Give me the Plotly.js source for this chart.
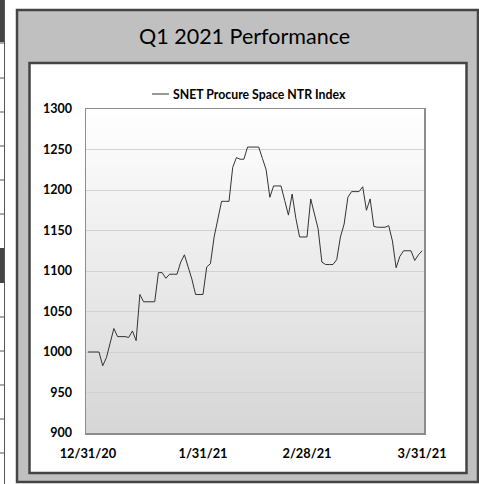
<!DOCTYPE html>
<html>
<head>
<meta charset="utf-8">
<script src="https://cdn.plot.ly/plotly-3.0.1.min.js"></script>
<style>html,body{margin:0;padding:0;background:#fff;}#chart{width:479px;height:484px;}</style>
</head>
<body>
<div id="chart"></div>
<script>
const seriesName = 'SNET Procure Space NTR Index';
const chartTitle = 'Q1 2021 Performance';
const dates = [
 '2020-12-31','2021-01-01','2021-01-02','2021-01-03','2021-01-04','2021-01-05','2021-01-06','2021-01-07','2021-01-08','2021-01-09','2021-01-10',
 '2021-01-11','2021-01-12','2021-01-13','2021-01-14','2021-01-15','2021-01-16','2021-01-17','2021-01-18','2021-01-19','2021-01-20',
 '2021-01-21','2021-01-22','2021-01-23','2021-01-24','2021-01-25','2021-01-26','2021-01-27','2021-01-28','2021-01-29','2021-01-30','2021-01-31',
 '2021-02-01','2021-02-02','2021-02-03','2021-02-04','2021-02-05','2021-02-06','2021-02-07','2021-02-08','2021-02-09','2021-02-10',
 '2021-02-11','2021-02-12','2021-02-13','2021-02-14','2021-02-15','2021-02-16','2021-02-17','2021-02-18','2021-02-19','2021-02-20',
 '2021-02-21','2021-02-22','2021-02-23','2021-02-24','2021-02-25','2021-02-26','2021-02-27','2021-02-28',
 '2021-03-01','2021-03-02','2021-03-03','2021-03-04','2021-03-05','2021-03-06','2021-03-07','2021-03-08','2021-03-09','2021-03-10',
 '2021-03-11','2021-03-12','2021-03-13','2021-03-14','2021-03-15','2021-03-16','2021-03-17','2021-03-18','2021-03-19','2021-03-20',
 '2021-03-21','2021-03-22','2021-03-23','2021-03-24','2021-03-25','2021-03-26','2021-03-27','2021-03-28','2021-03-29','2021-03-30','2021-03-31'
];
const values = [
 1000,1000,1000,1000,983,993,1011,1029,1019,1019,1019,
 1018,1026,1014,1071,1062,1062,1062,1062,1098,1098,
 1091,1096,1096,1096,1111,1120,1105,1090,1071,1071,1071,
 1105,1109,1142,1163,1186,1186,1186,1228,1240,1238,
 1238,1253,1253,1253,1253,1239,1225,1191,1205,1205,
 1205,1187,1169,1195,1165,1142,1142,1142,
 1189,1171,1152,1111,1108,1108,1108,1114,1142,1158,
 1191,1198,1198,1198,1204,1175,1189,1155,1154,1154,
 1154,1156,1137,1104,1118,1125,1125,1125,1113,1120,1125
];
const xTickVals = ['2020-12-31','2021-01-31','2021-02-28','2021-03-31'];
const xTickText = ['12/31/20','1/31/21','2/28/21','3/31/21'];
const yTickVals = [900,950,1000,1050,1100,1150,1200,1250,1300];

// layout geometry (pixels)
const W = 479, H = 484;
const PL = 86, PR = 424, PT = 109, PB = 433;
const px = v => (v - PL) / (PR - PL);
const py = v => (PB - v) / (PB - PT);

const shapes = [];
// left page strip (table fragment)
shapes.push({type:'rect', xref:'paper', yref:'paper', x0:px(0), x1:px(5), y0:py(0), y1:py(42), fillcolor:'#444', line:{width:0}, layer:'below'});
shapes.push({type:'rect', xref:'paper', yref:'paper', x0:px(0), x1:px(5), y0:py(248), y1:py(283), fillcolor:'#444', line:{width:0}, layer:'below'});
shapes.push({type:'line', xref:'paper', yref:'paper', x0:px(4.5), x1:px(4.5), y0:py(0), y1:py(484), line:{color:'#555', width:1}, layer:'below'});
[43,78,112,146,180,214,317,351,385,419,453].forEach(y => {
  shapes.push({type:'line', xref:'paper', yref:'paper', x0:px(0), x1:px(5), y0:py(y), y1:py(y), line:{color:'#555', width:1}, layer:'below'});
});
// outer frame
shapes.push({type:'rect', xref:'paper', yref:'paper', x0:px(17), x1:px(478), y0:py(10), y1:py(482), fillcolor:'#c0c0c0', line:{color:'#444', width:2.5}, layer:'below'});
// inner white panel
shapes.push({type:'rect', xref:'paper', yref:'paper', x0:px(29.5), x1:px(466.5), y0:py(63), y1:py(473), fillcolor:'#ffffff', line:{color:'#444', width:2.5}, layer:'below'});
// plot-area gradient
const nb = 54;
for (let i = 0; i < nb; i++) {
  const t = (i + 0.5) / nb;
  const c = Math.round(255 - t * 41);
  shapes.push({type:'rect', xref:'paper', yref:'paper', x0:0, x1:1, y0:1 - i/nb, y1:1 - (i+1)/nb - 0.002,
    fillcolor:`rgb(${c},${c},${c})`, line:{width:0}, layer:'below'});
}
// legend sample line
shapes.push({type:'line', xref:'paper', yref:'paper', x0:px(152), x1:px(169), y0:py(94), y1:py(94), line:{color:'#333', width:1}});

const annotations = [
  {xref:'paper', yref:'paper', x:px(244), y:py(36), text:chartTitle, showarrow:false, xanchor:'center', yanchor:'middle',
   font:{family:'Lato, sans-serif', size:21.5, color:'#000'}},
  {xref:'paper', yref:'paper', x:px(171), y:py(94), text:seriesName, showarrow:false, xanchor:'left', yanchor:'middle',
   font:{family:'Lato, sans-serif', size:12.3, color:'#000', weight:'bold'}}
];

const trace = {
  x: dates, y: values, type:'scatter', mode:'lines', name: seriesName,
  line:{color:'#333333', width:1}, hoverinfo:'x+y', showlegend:false
};

const layout = {
  width:W, height:H,
  margin:{l:PL, r:W-PR, t:PT, b:H-PB, pad:0},
  paper_bgcolor:'#ffffff', plot_bgcolor:'rgba(0,0,0,0)',
  showlegend:false,
  font:{family:'Lato, sans-serif', color:'#111'},
  xaxis:{type:'date', range:['2020-12-30 12:00','2021-03-31 12:00'], tickmode:'array', tickvals:xTickVals, ticktext:xTickText,
    showgrid:false, zeroline:false, showline:true, mirror:true, linecolor:'#8c8c8c', linewidth:1.5, ticks:'',
    tickfont:{family:'Lato, sans-serif', size:12.8, color:'#000', weight:'bold'}, ticklabelstandoff:8},
  yaxis:{range:[900,1300], tickmode:'array', tickvals:yTickVals, showgrid:true, gridcolor:'#d2d2d2', gridwidth:1,
    zeroline:false, showline:true, mirror:true, linecolor:'#8c8c8c', linewidth:1.5, ticks:'',
    tickfont:{family:'Lato, sans-serif', size:12.5, color:'#000', weight:'bold'}, ticklabelstandoff:10},
  shapes, annotations
};
Plotly.newPlot('chart', [trace], layout, {displayModeBar:false, staticPlot:true});
</script>
</body>
</html>
